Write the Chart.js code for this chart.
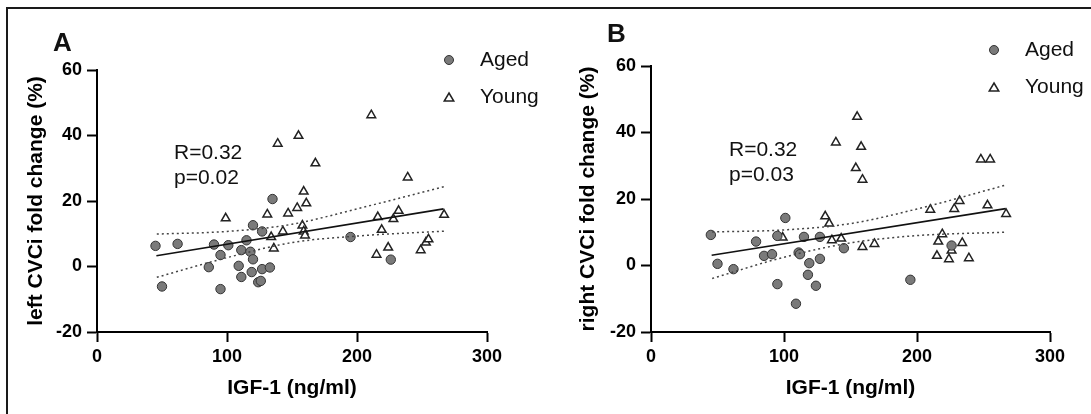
<!DOCTYPE html>
<html>
<head>
<meta charset="utf-8">
<script src="https://cdn.jsdelivr.net/npm/chart.js@4.4.1/dist/chart.umd.min.js"></script>
<style>
  body { margin: 0; background: #fff; }
  #wrap { position: relative; width: 1091px; height: 414px; overflow: hidden; }
  canvas { position: absolute; top: 0; }
  .edge { position: absolute; background: #1a1a1a; }
</style>
</head>
<body>
<div id="wrap">
  <canvas id="chartA" style="left:0"></canvas>
  <canvas id="chartB" style="left:545px"></canvas>
  <div class="edge" style="left:6px; top:7px; width:1085px; height:2px"></div>
  <div class="edge" style="left:6px; top:7px; width:2px; height:407px"></div>
</div>
<script>
// panel A - left CVCi
var agedAX = [45, 50, 62, 86, 90, 95, 95, 101, 109, 111, 111, 115, 118, 119, 120, 120, 124, 126, 127, 127, 133, 135, 195, 226];
var agedAY = [6.3, -6.1, 6.9, -0.2, 6.7, 3.5, -6.9, 6.5, 0.2, 5.0, -3.2, 8.0, 4.5, -1.7, 2.2, 12.6, -4.8, -4.4, 10.7, -0.8, -0.3, 20.6, 9.0, 2.1];
var youngAX = [99, 131, 134, 136, 139, 143, 147, 154, 155, 158, 159, 159, 160, 161, 168, 211, 215, 216, 219, 224, 228, 232, 239, 249, 253, 255, 267];
var youngAY = [14.7, 15.9, 9.0, 5.5, 37.5, 10.7, 16.2, 17.9, 39.9, 12.5, 22.9, 10.7, 9.5, 19.3, 31.5, 46.2, 3.6, 15.1, 11.2, 5.8, 14.5, 17.0, 27.2, 5.0, 7.3, 8.3, 15.8];
var fitAX = [45.7, 266.6];
var fitAY = [3.3, 17.6];
var bandAX = [46, 100, 150, 200, 267];
var upperAY = [9.9, 10.7, 12.9, 17.6, 24.4];
var lowerAY = [-3.3, 2.7, 7.3, 9.3, 10.8];

// panel B - right CVCi
var agedBX = [45, 50, 62, 79, 85, 91, 95, 95, 101, 109, 111, 112, 115, 118, 119, 124, 127, 127, 145, 195, 226];
var agedBY = [9.2, 0.5, -1.1, 7.2, 2.9, 3.4, 8.9, -5.6, 14.3, -11.5, 3.9, 3.4, 8.6, -2.8, 0.7, -6.1, 2.0, 8.6, 5.2, -4.3, 6.0];
var youngBX = [99, 131, 134, 136, 139, 143, 154, 155, 158, 159, 159, 168, 210, 215, 216, 219, 224, 226, 228, 232, 234, 239, 248, 253, 255, 267];
var youngBY = [8.4, 14.8, 12.6, 7.6, 37.0, 8.1, 29.3, 44.7, 35.7, 25.8, 5.6, 6.5, 16.8, 2.9, 7.2, 9.4, 1.9, 4.5, 17.0, 19.4, 6.8, 2.2, 31.9, 18.1, 31.9, 15.5];
var fitBX = [45.6, 266.7];
var fitBY = [3.1, 17.1];
var bandBX = [46, 100, 150, 200, 266];
var upperBY = [10.1, 10.7, 12.6, 17.0, 24.1];
var lowerBY = [-3.9, 2.5, 6.8, 9.0, 10.0];

var xTicks = [0, 100, 200, 300];
var yTicks = [-20, 0, 20, 40, 60];

var FONT = '"Liberation Sans", Arial, sans-serif';

function pts(xs, ys) {
  return xs.map(function (x, i) { return { x: x, y: ys[i] }; });
}

function triangle(ctx, x, y, r) {
  ctx.beginPath();
  ctx.moveTo(x, y - r);
  ctx.lineTo(x + r * 0.95, y + r * 0.6);
  ctx.lineTo(x - r * 0.95, y + r * 0.6);
  ctx.closePath();
}

var notes = {
  id: 'notes',
  afterDraw: function (chart, args, o) {
    var ctx = chart.ctx;
    ctx.save();
    ctx.fillStyle = '#111';
    ctx.textBaseline = 'middle';
    ctx.font = 'bold 26px ' + FONT;
    ctx.fillText(o.tag, o.tagX, o.tagY);
    ctx.font = '21px ' + FONT;
    ctx.fillText(o.r, o.textX, o.textY);
    ctx.fillText(o.p, o.textX, o.textY + 25);
    // legend
    ctx.fillText('Aged', o.legX + 31, o.legY);
    ctx.fillText('Young', o.legX + 31, o.legY + 37);
    ctx.beginPath();
    ctx.arc(o.legX, o.legY, 4.5, 0, Math.PI * 2);
    ctx.fillStyle = '#7a7a7a';
    ctx.fill();
    ctx.lineWidth = 1;
    ctx.strokeStyle = '#333';
    ctx.stroke();
    triangle(ctx, o.legX, o.legY + 38, 5);
    ctx.fillStyle = '#fff';
    ctx.fill();
    ctx.lineWidth = 1.5;
    ctx.strokeStyle = '#222';
    ctx.stroke();
    ctx.restore();
  }
};

function makeChart(id, d) {
  var c = document.getElementById(id);
  c.width = d.w;
  c.height = 414;
  c.style.width = d.w + 'px';
  c.style.height = '414px';
  return new Chart(c, {
    type: 'scatter',
    data: {
      datasets: [
        { data: pts(d.bandX, d.upper), showLine: true, pointRadius: 0, borderColor: '#444', borderWidth: 1.5, borderDash: [2, 3], cubicInterpolationMode: 'monotone', fill: false },
        { data: pts(d.bandX, d.lower), showLine: true, pointRadius: 0, borderColor: '#444', borderWidth: 1.5, borderDash: [2, 3], cubicInterpolationMode: 'monotone', fill: false },
        { data: pts(d.fitX, d.fitY), showLine: true, pointRadius: 0, borderColor: '#111', borderWidth: 1.6, fill: false },
        { label: 'Aged', data: pts(d.agedX, d.agedY), pointStyle: 'circle', pointRadius: 4.7, backgroundColor: '#7a7a7a', borderColor: '#333', borderWidth: 1 },
        { label: 'Young', data: pts(d.youngX, d.youngY), pointStyle: 'triangle', pointRadius: 5, backgroundColor: '#fff', borderColor: '#222', borderWidth: 1.5 }
      ]
    },
    options: {
      responsive: false,
      animation: false,
      events: [],
      layout: { padding: { left: 0, top: d.top, right: d.right, bottom: 0 } },
      plugins: { legend: { display: false }, tooltip: { enabled: false }, notes: d.notes },
      scales: {
        x: {
          type: 'linear', min: 0, max: 300,
          afterBuildTicks: function (s) { s.ticks = xTicks.map(function (v) { return { value: v }; }); },
          afterFit: function (s) { s.height = 82; },
          grid: { drawOnChartArea: false, drawTicks: true, tickLength: 10, tickColor: '#000', tickWidth: 2 },
          border: { color: '#000', width: 2 },
          ticks: { color: '#000', padding: 4, maxRotation: 0, font: { family: FONT, size: 18, weight: 'bold' } },
          title: { display: true, text: 'IGF-1 (ng/ml)', color: '#000', padding: { top: 0, bottom: 13 }, font: { family: FONT, size: 21, weight: 'bold' } }
        },
        y: {
          type: 'linear', min: -20, max: 60,
          afterBuildTicks: function (s) { s.ticks = yTicks.map(function (v) { return { value: v }; }); },
          afterFit: function (s) { s.width = d.yw; },
          grid: { drawOnChartArea: false, drawTicks: true, tickLength: 10, tickColor: '#000', tickWidth: 2 },
          border: { color: '#000', width: 2 },
          ticks: { color: '#000', padding: 5, font: { family: FONT, size: 18, weight: 'bold' } },
          title: { display: true, text: d.ytitle, color: '#000', padding: { top: d.ytp, bottom: 0 }, font: { family: FONT, size: 21, weight: 'bold' } }
        }
      }
    },
    plugins: [notes]
  });
}

makeChart('chartA', {
  w: 545, top: 70, right: 58, yw: 97, ytp: 24,
  ytitle: 'left CVCi fold change (%)',
  agedX: agedAX, agedY: agedAY, youngX: youngAX, youngY: youngAY,
  fitX: fitAX, fitY: fitAY, bandX: bandAX, upper: upperAY, lower: lowerAY,
  notes: { tag: 'A', tagX: 53, tagY: 44, r: 'R=0.32', p: 'p=0.02', textX: 174, textY: 153, legX: 449, legY: 60 }
});

makeChart('chartB', {
  w: 546, top: 66, right: 41, yw: 106, ytp: 31,
  ytitle: 'right CVCi fold change (%)',
  agedX: agedBX, agedY: agedBY, youngX: youngBX, youngY: youngBY,
  fitX: fitBX, fitY: fitBY, bandX: bandBX, upper: upperBY, lower: lowerBY,
  notes: { tag: 'B', tagX: 62, tagY: 35, r: 'R=0.32', p: 'p=0.03', textX: 184, textY: 150, legX: 449, legY: 50 }
});
</script>
</body>
</html>
